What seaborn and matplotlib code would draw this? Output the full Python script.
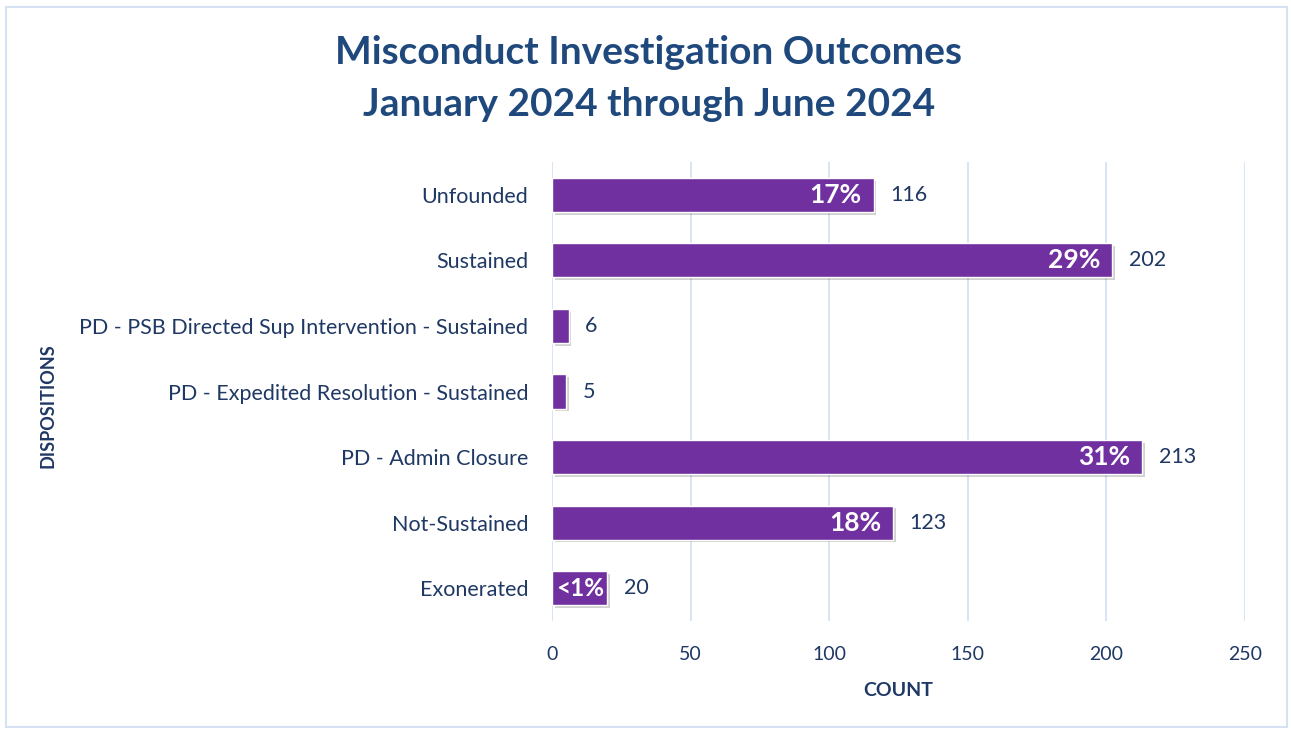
import matplotlib
matplotlib.use("Agg")
import matplotlib.pyplot as plt
import matplotlib.patheffects as pe
import seaborn as sns
import pandas as pd

categories = ["Unfounded", "Sustained", "PD - PSB Directed Sup Intervention - Sustained",
              "PD - Expedited Resolution - Sustained", "PD - Admin Closure",
              "Not-Sustained", "Exonerated"]
counts = [116, 202, 6, 5, 213, 123, 20]
pct_labels = ["17%", "29%", "", "", "31%", "18%", "<1%"]
x_ticks = [0, 50, 100, 150, 200, 250]

sns.set_theme(style="white")
plt.rcParams['font.family'] = ['Lato', 'DejaVu Sans']

navy = "#1f3864"
title_col = "#1f497d"
bar_col = "#7030a0"
grid_col = "#d6e2f3"

df = pd.DataFrame({"Disposition": categories, "Count": counts})

fig = plt.figure(figsize=(12.91, 7.30), dpi=100)
ax = fig.add_axes([552/1291, 1-621/730, (1245-552)/1291, (621-162)/730])

sns.barplot(data=df, y="Disposition", x="Count", order=categories, color=bar_col,
            saturation=1, width=0.52, ax=ax, zorder=3)
for p in ax.patches:
    p.set_path_effects([pe.SimplePatchShadow(offset=(2, -2), shadow_rgbFace="#000000", alpha=0.18), pe.Normal()])

ax.set_xlim(0, 250)
ax.set_ylim(6.5, -0.5)
ax.set_xticks(x_ticks)
ax.set_xticklabels([str(t) for t in x_ticks])
ax.grid(axis="x", color=grid_col, linewidth=1.3, zorder=0)
ax.set_axisbelow(True)
for s in ax.spines.values():
    s.set_visible(False)
ax.tick_params(axis="both", length=0, labelcolor=navy)
ax.tick_params(axis="y", pad=17, labelsize=15.5)
ax.tick_params(axis="x", pad=18, labelsize=14)

ax.set_xlabel("COUNT", fontsize=14, fontweight="bold", color=navy, labelpad=14)
ax.set_ylabel("")
fig.text(48/1291, 1-406/730, "DISPOSITIONS", rotation=90, ha="center", va="center",
         fontsize=13, fontweight="bold", color=navy)

for i, (c, lab) in enumerate(zip(counts, pct_labels)):
    ax.text(c + 6, i, str(c), va="center", ha="left", fontsize=15.5, color=navy)
    if lab:
        if c < 40:
            ax.text(c / 2, i, lab, va="center", ha="center", fontsize=17.5, fontweight="bold",
                    color="white", zorder=5)
        else:
            ax.text(c - 4.3, i, lab, va="center", ha="right", fontsize=19, fontweight="bold",
                    color="white", zorder=5)

fig.text(649/1291, 1-53/730, "Misconduct Investigation Outcomes", ha="center", va="center",
         fontsize=28, fontweight="bold", color=title_col)
fig.text(649/1291, 1-104/730, "January 2024 through June 2024", ha="center", va="center",
         fontsize=28, fontweight="bold", color=title_col)

border = plt.Rectangle((6/1291, 3/730), (1287-6)/1291, (725-5)/730, transform=fig.transFigure,
                       fill=False, edgecolor="#d6e2f3", linewidth=1.5)
fig.add_artist(border)

fig.savefig("out.png", dpi=100)
